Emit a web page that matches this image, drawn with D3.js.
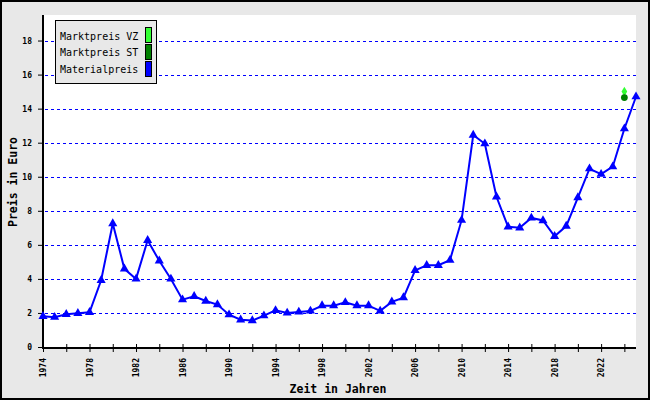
<!DOCTYPE html>
<html><head><meta charset="utf-8">
<script src="https://cdn.jsdelivr.net/npm/d3@7"></script>
<style>html,body{margin:0;padding:0;background:#fff}svg{display:block}</style>
</head><body>
<svg id="c" width="650" height="400"></svg>
<script>
const years = [1974,1975,1976,1977,1978,1979,1980,1981,1982,1983,1984,1985,1986,1987,1988,1989,1990,1991,1992,1993,1994,1995,1996,1997,1998,1999,2000,2001,2002,2003,2004,2005,2006,2007,2008,2009,2010,2011,2012,2013,2014,2015,2016,2017,2018,2019,2020,2021,2022,2023,2024,2025];
const materialpreis = [1.8,1.75,1.92,1.98,2.04,3.92,7.25,4.59,4.0,6.27,5.06,4.0,2.78,2.98,2.7,2.49,1.9,1.6,1.55,1.84,2.15,2.0,2.06,2.12,2.43,2.43,2.62,2.43,2.43,2.12,2.65,2.9,4.5,4.8,4.8,5.1,7.45,12.45,11.94,8.82,7.06,7.0,7.58,7.43,6.5,7.1,8.78,10.47,10.15,10.59,12.82,14.7];
const vzYears = [2024];
const vzValues = [15.0];
const stYears = [2024];
const stValues = [14.65];
const yTicks = [0,2,4,6,8,10,12,14,16,18];
const xTicks = d3.range(1974, 2025, 2);
const xLabels = d3.range(1974, 2025, 4);
const legendLabels = ["Marktpreis VZ","Marktpreis ST","Materialpreis"];
const legendColors = ["#33ff33","#008000","#0000ff"];

const svg = d3.select("#c");
const mono = "'DejaVu Sans Mono', monospace";
svg.append("rect").attr("x",1).attr("y",1).attr("width",648).attr("height",398)
  .attr("fill","#e8e8e8").attr("stroke","#000").attr("stroke-width",2);

const L=43, R=636, T=15, B=347;
const x = d3.scaleLinear().domain([1974,2025]).range([L,R]);
const y = d3.scaleLinear().domain([0,19.5]).range([B,T]);

svg.append("rect").attr("x",L).attr("y",T).attr("width",R-L).attr("height",B-T).attr("fill","#fff");

// grid
svg.append("g").attr("shape-rendering","crispEdges").selectAll("line").data(yTicks.filter(d=>d>0)).join("line")
  .attr("x1",L+2).attr("x2",R).attr("y1",d=>Math.round(y(d))+0.5).attr("y2",d=>Math.round(y(d))+0.5)
  .attr("stroke","#0000ff").attr("stroke-width",1).attr("stroke-dasharray","3,3");

// y axis
const ya = svg.append("g").attr("transform",`translate(${L},0)`)
  .call(d3.axisLeft(y).tickValues(yTicks).tickSize(5).tickSizeOuter(0).tickFormat(d3.format("d")));
ya.select(".domain").remove();
ya.selectAll("line").attr("stroke","#000");
ya.selectAll("text").attr("font-family",mono).attr("font-size",8).attr("font-weight","bold").attr("fill","#000").attr("x",-11);
svg.append("line").attr("x1",L).attr("x2",L).attr("y1",T).attr("y2",B+2).attr("stroke","#000").attr("stroke-width",2);

// x axis
const xa = svg.append("g").attr("transform",`translate(0,${B+1})`)
  .call(d3.axisBottom(x).tickValues(xTicks).tickSize(4).tickSizeOuter(0).tickFormat(d=>xLabels.includes(d)?String(d):""));
xa.select(".domain").remove();
xa.selectAll(".tick line").attr("stroke","#000").attr("y1",-4).attr("y2",4);
xa.selectAll("text").attr("font-family",mono).attr("font-size",8).attr("font-weight","bold").attr("fill","#000")
  .attr("transform","rotate(-90)").attr("text-anchor","end").attr("x",-10).attr("y",0).attr("dy","0.32em");
svg.append("line").attr("x1",L-1).attr("x2",R).attr("y1",B+1).attr("y2",B+1).attr("stroke","#000").attr("stroke-width",2);

// titles
svg.append("text").attr("x",338).attr("y",393).attr("text-anchor","middle")
  .attr("font-family",mono).attr("font-weight","bold").attr("font-size",11.5).text("Zeit in Jahren");
svg.append("text").attr("transform","translate(16.5,182) rotate(-90)").attr("text-anchor","middle")
  .attr("font-family",mono).attr("font-weight","bold").attr("font-size",11.5).text("Preis in Euro");

// line
const data = years.map((d,i)=>({yr:d,v:materialpreis[i]}));
svg.append("path").datum(data).attr("fill","none").attr("stroke","#0000ff").attr("stroke-width",2)
  .attr("d",d3.line().x(d=>x(d.yr)).y(d=>y(d.v)));
svg.append("g").selectAll("path").data(data).join("path")
  .attr("transform",d=>`translate(${x(d.yr)},${y(d.v)})`)
  .attr("d",d3.symbol(d3.symbolTriangle,36)).attr("fill","#0000ff");

// market points
svg.append("g").selectAll("path").data(vzYears.map((d,i)=>({yr:d,v:vzValues[i]}))).join("path")
  .attr("transform",d=>`translate(${x(d.yr)},${y(d.v)})`)
  .attr("d",d3.symbol(d3.symbolDiamond,28)).attr("fill","#33ff33");
svg.append("g").selectAll("circle").data(stYears.map((d,i)=>({yr:d,v:stValues[i]}))).join("circle")
  .attr("cx",d=>x(d.yr)).attr("cy",d=>y(d.v)).attr("r",3.4).attr("fill","#008000");

// legend
const lg = svg.append("g");
lg.append("rect").attr("x",55.5).attr("y",20.5).attr("width",101).attr("height",63)
  .attr("fill","#e8e8e8").attr("stroke","#000").attr("stroke-width",1);
legendLabels.forEach((t,i)=>{
  lg.append("text").attr("x",60).attr("y",39.5+i*16.7).attr("font-family",mono).attr("font-size",10).text(t);
  lg.append("rect").attr("x",145.5).attr("y",27.5+i*17).attr("width",6).attr("height",15)
    .attr("fill",legendColors[i]).attr("stroke","#000").attr("stroke-width",1);
});
</script>
</body></html>
